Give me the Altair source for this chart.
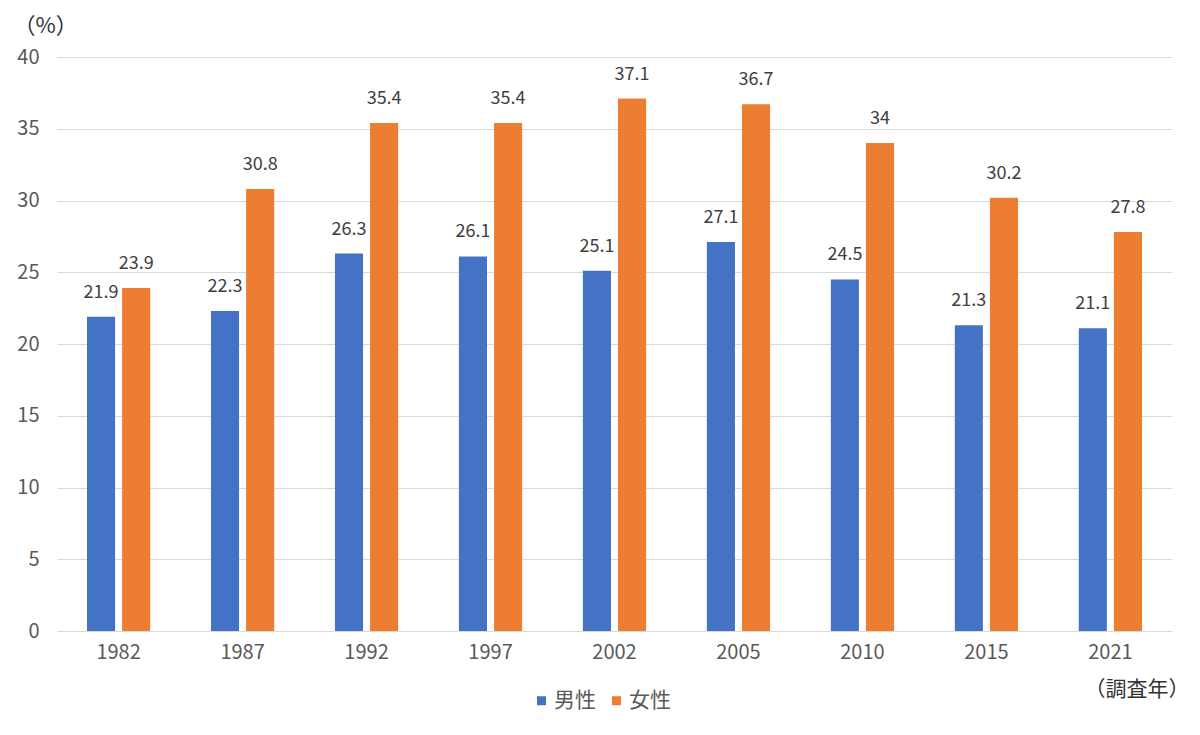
import altair as alt
import pandas as pd

years = ["1982", "1987", "1992", "1997", "2002", "2005", "2010", "2015", "2021"]
male = [21.9, 22.3, 26.3, 26.1, 25.1, 27.1, 24.5, 21.3, 21.1]
female = [23.9, 30.8, 35.4, 35.4, 37.1, 36.7, 34, 30.2, 27.8]
series = ["男性", "女性"]
colors = ["#4472C4", "#ED7D31"]

rows = []
for i, y in enumerate(years):
    rows.append({"year": y, "sex": series[0], "value": male[i]})
    rows.append({"year": y, "sex": series[1], "value": female[i]})
df = pd.DataFrame(rows)

FONT = "Noto Sans CJK JP"

x = alt.X(
    "year:N",
    sort=years,
    scale=alt.Scale(paddingInner=0.49, paddingOuter=0.242),
    axis=alt.Axis(
        title="（調査年）",
        titleAngle=0,
        titleAlign="right",
        titleBaseline="middle",
        titleX=1132,
        titleY=58,
        titleFontSize=21,
        titleFontWeight="normal",
        titleColor="#333333",
        labelAngle=0,
        labelFontSize=20,
        labelColor="#595959",
        labelPadding=11,
        ticks=False,
        domainColor="#d9d9d9",
        grid=False,
    ),
)
xo = alt.XOffset("sex:N", sort=series, scale=alt.Scale(paddingInner=0.2, paddingOuter=0))
yenc = alt.Y(
    "value:Q",
    scale=alt.Scale(domain=[0, 40], nice=False),
    axis=alt.Axis(
        values=[0, 5, 10, 15, 20, 25, 30, 35, 40],
        title="（%）",
        titleAngle=0,
        titleAlign="left",
        titleBaseline="middle",
        titleX=-44,
        titleY=-32,
        titleFontSize=22,
        titleFontWeight="normal",
        titleColor="#333333",
        labelFontSize=20,
        labelColor="#595959",
        labelPadding=18,
        ticks=False,
        domain=False,
        gridColor="#d9d9d9",
    ),
)
color = alt.Color(
    "sex:N",
    sort=series,
    scale=alt.Scale(domain=series, range=colors),
    legend=alt.Legend(
        title=None,
        orient="none",
        direction="horizontal",
        legendX=474,
        legendY=633,
        symbolType="square",
        symbolSize=81,
        symbolStrokeWidth=0,
        labelFontSize=21,
        labelColor="#595959",
        labelOffset=2,
        columnPadding=10,
    ),
)

bars = alt.Chart(df).mark_bar().encode(x=x, xOffset=xo, y=yenc, color=color)
labels = alt.Chart(df).mark_text(dy=-24, baseline="middle", fontSize=18, color="#404040").encode(
    x=x, xOffset=xo, y=yenc, text=alt.Text("value:Q")
)

chart = (
    alt.layer(bars, labels)
    .properties(
        width=1115,
        height=574,
        autosize=alt.AutoSizeParams(type="none"),
        padding={"left": 49, "top": 49, "right": 20, "bottom": 96},
    )
    .configure(font=FONT)
    .configure_view(stroke=None)
)

chart.save("out.html", embed_options={"renderer": "svg", "actions": False})
